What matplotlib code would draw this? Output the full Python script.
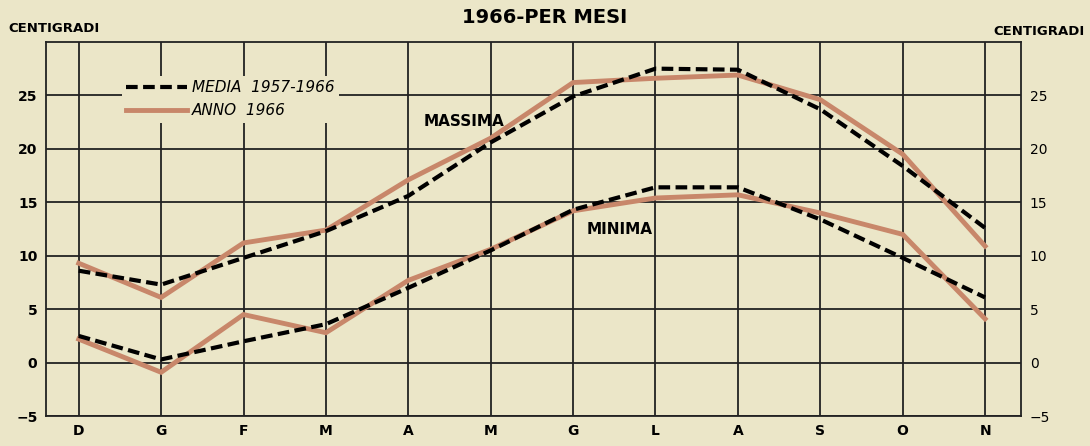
import matplotlib.pyplot as plt

mesi = ['D', 'G', 'F', 'M', 'A', 'M', 'G', 'L', 'A', 'S', 'O', 'N']
media_max = [8.6, 7.3, 9.8, 12.3, 15.6, 20.6, 24.9, 27.5, 27.4, 23.7, 18.4, 12.6]
anno_max = [9.3, 6.1, 11.2, 12.4, 17.1, 21.0, 26.2, 26.6, 26.9, 24.6, 19.5, 10.9]
media_min = [2.5, 0.3, 2.0, 3.6, 7.0, 10.5, 14.3, 16.4, 16.4, 13.4, 9.8, 6.1]
anno_min = [2.2, -0.9, 4.5, 2.8, 7.7, 10.6, 14.2, 15.4, 15.7, 14.0, 12.0, 4.1]
y_ticks = [-5, 0, 5, 10, 15, 20, 25]

bg = '#ebe6c8'
brown = '#c8876a'

fig = plt.figure(figsize=(10.9, 4.46), dpi=100, facecolor=bg)
ax = fig.add_axes([0.042, 0.067, 0.895, 0.839], facecolor=bg)
x = list(range(len(mesi)))

ax.set_xlim(-0.4, 11.44)
ax.set_ylim(-5, 30)
ax.set_xticks(x)
ax.set_xticklabels(mesi)
ax.set_yticks(y_ticks)
ax.tick_params(length=0, labelsize=10, pad=6)
for lab in ax.get_xticklabels() + ax.get_yticklabels():
    lab.set_fontweight('bold')
ax.tick_params(axis='y', labelright=True)
ax.grid(True, color='#222222', lw=1.3)
ax.set_axisbelow(True)
for s in ax.spines.values():
    s.set_color('#222222')
    s.set_linewidth(1.3)

ax.plot(x, anno_max, color=brown, lw=3.5, solid_joinstyle='miter', label='ANNO  1966', zorder=3)
ax.plot(x, anno_min, color=brown, lw=3.5, solid_joinstyle='miter', zorder=3)
ax.plot(x, media_max, color='black', lw=3, ls=(0, (2.8, 1.3)), label='MEDIA  1957-1966', zorder=4)
ax.plot(x, media_min, color='black', lw=3, ls=(0, (2.8, 1.3)), zorder=4)

handles, labels = ax.get_legend_handles_labels()
leg = ax.legend(handles[::-1], labels[::-1], loc='upper left', bbox_to_anchor=(0.07, 0.93),
                frameon=True, facecolor=bg, edgecolor='none', framealpha=1,
                handlelength=4, handletextpad=0.3, borderpad=0.3, labelspacing=0.5,
                prop={'style': 'italic', 'size': 11})

ax.text(4.67, 22.6, 'MASSIMA', ha='center', va='center', fontsize=11, fontweight='bold')
ax.text(6.56, 12.5, 'MINIMA', ha='center', va='center', fontsize=11, fontweight='bold')

fig.text(0.5, 0.96, '1966-PER MESI', ha='center', va='center', fontsize=14, fontweight='bold')
fig.text(0.008, 0.935, 'CENTIGRADI', ha='left', va='center', fontsize=9.5, fontweight='bold')
fig.text(0.995, 0.93, 'CENTIGRADI', ha='right', va='center', fontsize=9.5, fontweight='bold')

fig.savefig('out.png', dpi=100, facecolor=bg)
